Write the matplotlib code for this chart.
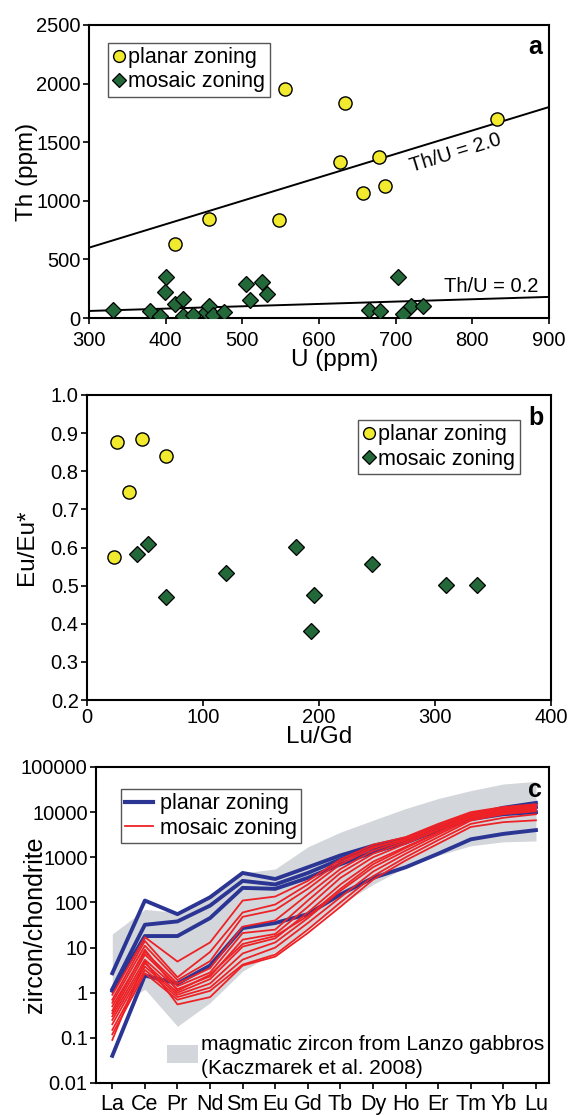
import matplotlib
matplotlib.use("Agg")
import matplotlib.pyplot as plt
from matplotlib.lines import Line2D
from matplotlib.patches import Rectangle
import numpy as np

plt.rcParams['font.family'] = ['Liberation Sans', 'DejaVu Sans']

# ---------------- Panel a data ----------------
planar_U = [412, 457, 548, 555, 628, 634, 657, 678, 686, 832]
planar_Th = [630, 843, 837, 1950, 1334, 1834, 1066, 1371, 1123, 1700]
mosaic_U = [331, 379, 392, 400, 399, 412, 423, 422, 435, 453, 457, 462, 476,
            505, 510, 526, 532, 665, 680, 703, 709, 720, 735]
mosaic_Th = [71, 63, 20, 349, 220, 123, 166, 14, 23, 51, 100, 23, 51,
             291, 157, 306, 209, 66, 57, 351, 37, 106, 100]
ratio_lines = [2.0, 0.2]
ratio_labels = ["Th/U = 2.0", "Th/U = 0.2"]

# ---------------- Panel b data ----------------
planar_LuGd = [25.6, 47.6, 67.8, 36.3, 23.7]
planar_Eu = [0.878, 0.884, 0.840, 0.745, 0.576]
mosaic_LuGd = [42.9, 53, 67.8, 119.9, 180, 195.3, 192.7, 246, 309.5, 336]
mosaic_Eu = [0.582, 0.608, 0.469, 0.534, 0.602, 0.475, 0.382, 0.557, 0.502, 0.502]

# ---------------- Panel c data ----------------
ree = ["La", "Ce", "Pr", "Nd", "Sm", "Eu", "Gd", "Tb", "Dy", "Ho", "Er", "Tm", "Yb", "Lu"]
field_upper = [20, 70, 60, 150, 450, 550, 1700, 3600, 6600, 12000, 20000, 30000, 42000, 48000]
field_lower = [0.4, 1.2, 0.18, 0.6, 3, 8, 25, 90, 250, 600, 1100, 1800, 2200, 2300]
planar_ree = [
    [2.7, 110, 55, 130, 450, 330, 600, 1100, 1800, 2600, 4800, 8500, 12500, 16000],
    [1.2, 32, 38, 85, 300, 250, 450, 900, 1600, 2400, 4500, 8000, 11000, 13000],
    [1.1, 18, 18, 45, 210, 200, 350, 700, 1300, 2100, 4000, 7000, 9000, 10000],
    [0.04, 2.4, 1.6, 4, 27, 35, 55, 150, 350, 600, 1200, 2500, 3300, 4000],
]
mosaic_ree = [
    [0.9, 17, 4.9, 13, 110, 135, 300, 900, 1900, 2800, 5500, 10000, 13000, 15000],
    [0.7, 14, 2.2, 8, 60, 90, 250, 800, 1700, 2500, 4800, 9000, 12500, 14500],
    [0.6, 11, 1.9, 5, 48, 68, 200, 700, 1600, 2600, 5000, 9500, 12000, 14000],
    [0.5, 8, 1.6, 3.5, 29, 40, 150, 550, 1400, 2400, 4600, 9000, 11500, 13000],
    [0.4, 9, 1.1, 2.5, 12, 18, 50, 200, 700, 1600, 3500, 8000, 11000, 13500],
    [0.35, 7, 1.4, 2.8, 21, 25, 110, 450, 1200, 2200, 4200, 8500, 11000, 12500],
    [0.3, 5.4, 1.2, 2.3, 15, 20, 80, 350, 1000, 2000, 4000, 8000, 10500, 12000],
    [0.25, 4.5, 1.0, 2.0, 10.5, 16, 60, 250, 800, 1700, 3600, 7500, 10000, 11500],
    [0.2, 3.8, 0.9, 1.6, 7.4, 13, 45, 180, 600, 1400, 3200, 7000, 9500, 11000],
    [0.15, 3.2, 0.8, 1.3, 5.4, 10, 35, 130, 480, 1200, 2800, 6500, 9000, 10500],
    [0.12, 2.7, 0.7, 1.1, 4.2, 7, 25, 100, 380, 1000, 2400, 5500, 7500, 9000],
    [0.09, 5, 0.55, 0.8, 4, 6.3, 21, 80, 320, 850, 2000, 4700, 6000, 6600],
]

YELLOW = '#f2ea2e'
GREEN = '#226838'
BLUE = '#2b3594'
RED = '#ee2226'
GREY = '#d3d6da'

TICK_FS = 14.5
LABEL_FS = 17.5
LEG_FS = 15.5

W, H = 573, 1115
fig = plt.figure(figsize=(W / 100, H / 100), dpi=100)


def rect(l, t, r, b):
    return [l / W, 1 - b / H, (r - l) / W, (b - t) / H]


def style(ax):
    for s in ax.spines.values():
        s.set_linewidth(1.5)
    ax.tick_params(direction='out', length=4, width=1.2, labelsize=TICK_FS, pad=2)


# ---------------- Panel a ----------------
ax = fig.add_axes(rect(89, 25, 549, 318))
style(ax)
ax.set_xlim(300, 900)
ax.set_ylim(0, 2500)
xs = np.array([300, 900])
for r in ratio_lines:
    ax.plot(xs, r * xs, color='black', lw=1.4, zorder=1)
ax.plot(planar_U, planar_Th, 'o', ms=9.5, mfc=YELLOW, mec='black', mew=1.0, ls='none', zorder=3)
ax.plot(mosaic_U, mosaic_Th, 'D', ms=8, mfc=GREEN, mec='black', mew=0.9, ls='none', zorder=3)
ax.set_xticks([300, 400, 500, 600, 700, 800, 900])
ax.set_yticks([0, 500, 1000, 1500, 2000, 2500])
ax.tick_params(axis='x', pad=5)
ax.set_xlabel("U (ppm)", fontsize=LABEL_FS)
ax.xaxis.set_label_coords((335 - 89) / 460, (318 - 349) / 293)
ax.xaxis.label.set_va('top')
ax.set_ylabel("Th (ppm)", fontsize=LABEL_FS)
ax.yaxis.set_label_coords((38 - 89) / 460, 0.5)
ax.text(778, 1405, ratio_labels[0], fontsize=14.5, rotation=17, ha='center', va='center')
ax.text(825, 265, ratio_labels[1], fontsize=14.5, ha='center', va='center')
ax.text(0.985, 0.965, "a", transform=ax.transAxes, fontsize=18, fontweight='bold', ha='right', va='top')
h1 = Line2D([], [], marker='o', ms=8.5, mfc=YELLOW, mec='black', mew=1.0, ls='none')
h2 = Line2D([], [], marker='D', ms=7, mfc=GREEN, mec='black', mew=0.9, ls='none')
leg = ax.legend([h1, h2], ["planar zoning", "mosaic zoning"], loc='upper left',
                bbox_to_anchor=(0.041, 0.939), borderaxespad=0, fontsize=LEG_FS,
                handlelength=0.6, handletextpad=0.15, borderpad=0.2, labelspacing=0.15,
                fancybox=False, framealpha=1, edgecolor='#555555')
leg.get_frame().set_linewidth(1.0)

# ---------------- Panel b ----------------
ax = fig.add_axes(rect(87, 395, 551, 700))
style(ax)
ax.set_xlim(0, 400)
ax.set_ylim(0.2, 1.0)
ax.plot(planar_LuGd, planar_Eu, 'o', ms=9.5, mfc=YELLOW, mec='black', mew=1.0, ls='none', zorder=3)
ax.plot(mosaic_LuGd, mosaic_Eu, 'D', ms=8, mfc=GREEN, mec='black', mew=0.9, ls='none', zorder=3)
ax.set_xticks([0, 100, 200, 300, 400])
ax.set_yticks(np.round(np.arange(0.2, 1.01, 0.1), 1))
ax.set_yticklabels([f"{v:.1f}" for v in np.arange(0.2, 1.01, 0.1)])
ax.set_xlabel("Lu/Gd", fontsize=LABEL_FS, labelpad=-1)
ax.set_ylabel("Eu/Eu*", fontsize=LABEL_FS)
ax.yaxis.set_label_coords((38 - 87) / 464, 0.5)
ax.text(0.985, 0.965, "b", transform=ax.transAxes, fontsize=18, fontweight='bold', ha='right', va='top')
leg = ax.legend([h1, h2], ["planar zoning", "mosaic zoning"], loc='upper left',
                bbox_to_anchor=(0.584, 0.918), borderaxespad=0, fontsize=LEG_FS,
                handlelength=0.6, handletextpad=0.15, borderpad=0.2, labelspacing=0.15,
                fancybox=False, framealpha=1, edgecolor='#555555')
leg.get_frame().set_linewidth(1.0)

# ---------------- Panel c ----------------
ax = fig.add_axes(rect(96, 767, 549, 1083))
style(ax)
x = np.arange(len(ree))
ax.set_yscale('log')
ax.set_ylim(0.01, 100000)
ax.set_xlim(-0.5, 13.4)
ax.fill_between(x, field_lower, field_upper, color=GREY, lw=0, zorder=1)
for row in planar_ree:
    ax.plot(x, row, color=BLUE, lw=2.8, zorder=2, solid_joinstyle='round')
for row in mosaic_ree:
    ax.plot(x, row, color=RED, lw=1.3, zorder=3)
ax.set_xticks(x)
ax.set_xticklabels(ree, fontsize=15.5)
yt = [0.01, 0.1, 1, 10, 100, 1000, 10000, 100000]
ax.set_yticks(yt)
ax.set_yticklabels(["0.01", "0.1", "1", "10", "100", "1000", "10000", "100000"])
ax.minorticks_off()
ax.tick_params(axis='x', pad=4)
ax.set_ylabel("zircon/chondrite", fontsize=LABEL_FS + 0.5)
ax.yaxis.set_label_coords((47 - 96) / 453, 0.5)
ax.text(0.985, 0.965, "c", transform=ax.transAxes, fontsize=18, fontweight='bold', ha='right', va='top')
lh1 = Line2D([], [], color=BLUE, lw=3.0)
lh2 = Line2D([], [], color=RED, lw=1.3)
leg = ax.legend([lh1, lh2], ["planar zoning", "mosaic zoning"], loc='upper left',
                bbox_to_anchor=(0.055, 0.930), borderaxespad=0, fontsize=LEG_FS,
                handlelength=1.3, handletextpad=0.3, borderpad=0.2, labelspacing=0.15,
                fancybox=False, framealpha=1, edgecolor='#555555')
leg.get_frame().set_linewidth(1.0)
# field legend patch and text
ax.add_patch(Rectangle(((167 - 96) / 453, (1083 - 1063) / 316), 31 / 453, 18 / 316,
                       transform=ax.transAxes, color=GREY, lw=0, zorder=4))
ax.text((201 - 96) / 453, (1083 - 1044) / 316, "magmatic zircon from Lanzo gabbros",
        transform=ax.transAxes, fontsize=15, va='center', ha='left')
ax.text((201 - 96) / 453, (1083 - 1069) / 316, "(Kaczmarek et al. 2008)",
        transform=ax.transAxes, fontsize=15, va='center', ha='left')

fig.savefig("out.png", dpi=100)
